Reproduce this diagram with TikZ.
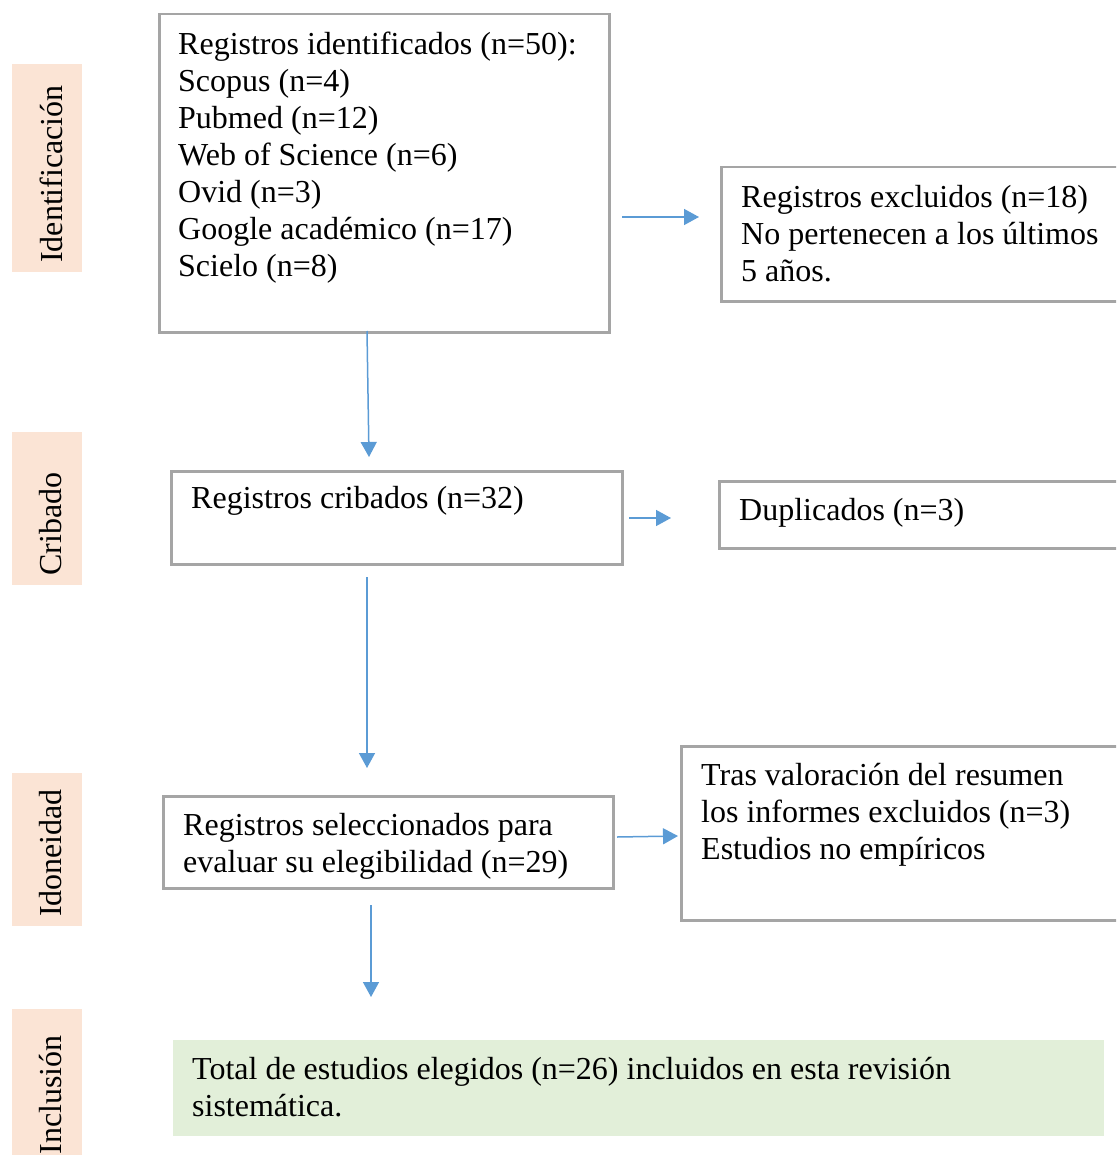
\documentclass[tikz,border=0pt]{standalone}
\usepackage{fontspec}
\setmainfont{Liberation Serif}
\usetikzlibrary{arrows.meta}

\definecolor{gris}{HTML}{A5A5A5}
\definecolor{azul}{HTML}{5B9BD5}
\definecolor{durazno}{HTML}{FBE4D5}
\definecolor{verde}{HTML}{E2EFD9}

\tikzset{
  caja/.style={draw=gris, line width=2.5pt, anchor=north west, inner sep=0pt},
  fase/.style={fill=durazno, anchor=north west, inner sep=0pt, minimum width=70pt},
  texto/.style={anchor=north west, inner sep=0pt, align=left, font=\fontsize{32}{37}\selectfont},
  rotulo/.style={rotate=90, inner sep=0pt, font=\fontsize{32}{37}\selectfont},
  flecha/.style={azul, line width=1.5pt, -{Triangle[length=15pt,width=16pt]}}
}

\begin{document}
\begin{tikzpicture}[x=1pt, y=-1pt]
		\useasboundingbox (0,0) rectangle (1116,1155);
		\clip (0,0) rectangle (1116,1155);

		% fases
		\node[fase, minimum height=208pt] (fid) at (12,64) {};
		\node[rotulo] (tid) at (51,174) {Identificación};
		\node[fase, minimum height=153pt] (fcr) at (12,432) {};
		\node[rotulo] (tcr) at (51,524) {Cribado};
		\node[fase, minimum height=153pt] (fido) at (12,773) {};
		\node[rotulo] (tido) at (51,853) {Idoneidad};
		\node[fase, minimum height=180pt] (finc) at (12,1009) {};
		\node[rotulo] (tinc) at (51,1095) {Inclusión};

		% cajas
		\node[caja, minimum width=450pt, minimum height=318pt] (ident) at (158,13) {};
		\node[texto] (tident) at (178,32) {Registros identificados (n=50):\\Scopus (n=4)\\Pubmed (n=12)\\Web of Science (n=6)\\Ovid (n=3)\\Google académico (n=17)\\Scielo (n=8)};

		\node[caja, minimum width=420pt, minimum height=134pt] (excl) at (720,166) {};
		\node[texto] (texcl) at (741,185) {Registros excluidos (n=18)\\No pertenecen a los últimos\\5 años.};

		\node[caja, minimum width=451pt, minimum height=93pt] (crib) at (170,470) {};
		\node[texto] (tcrib) at (191,486) {Registros cribados (n=32)};

		\node[caja, minimum width=420pt, minimum height=67pt] (dup) at (718,480) {};
		\node[texto] (tdup) at (739,498) {Duplicados (n=3)};

		\node[caja, minimum width=450pt, minimum height=92pt] (selec) at (162,795) {};
		\node[texto] (tselec) at (183,813) {Registros seleccionados para\\evaluar su elegibilidad (n=29)};

		\node[caja, minimum width=460pt, minimum height=174pt] (valor) at (680,745) {};
		\node[texto] (tvalor) at (701,763) {Tras valoración del resumen\\los informes excluidos (n=3)\\Estudios no empíricos};

		\node[fill=verde, anchor=north west, inner sep=0pt, minimum width=931pt, minimum height=96pt] (total) at (173,1040) {};
		\node[texto] (ttotal) at (192,1057) {Total de estudios elegidos (n=26) incluidos en esta revisión\\sistemática.};

		% flechas
		\coordinate (a1i) at (367,331);
		\coordinate (a1f) at (369,457);
		\coordinate (a2i) at (622,217);
		\coordinate (a2f) at (699,217);
		\coordinate (a3i) at (367,577);
		\coordinate (a3f) at (367,768);
		\coordinate (a4i) at (629,518);
		\coordinate (a4f) at (671,518);
		\coordinate (a5i) at (371,905);
		\coordinate (a5f) at (371,997);
		\coordinate (a6i) at (617,837);
		\coordinate (a6f) at (678,836);
		\draw[flecha] (a1i) -- (a1f);
		\draw[flecha] (a2i) -- (a2f);
		\draw[flecha] (a3i) -- (a3f);
		\draw[flecha] (a4i) -- (a4f);
		\draw[flecha] (a5i) -- (a5f);
		\draw[flecha] (a6i) -- (a6f);
\end{tikzpicture}
\end{document}
